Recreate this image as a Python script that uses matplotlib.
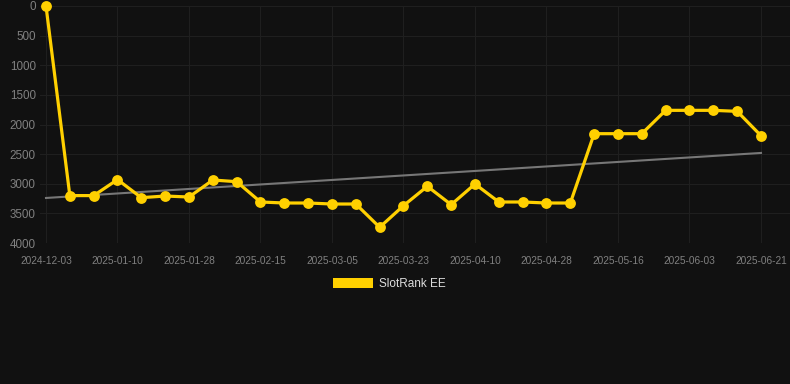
import matplotlib
matplotlib.use("Agg")
import matplotlib.pyplot as plt
from matplotlib.patches import Patch

tick_labels = ["2024-12-03", "2025-01-10", "2025-01-28", "2025-02-15", "2025-03-05",
               "2025-03-23", "2025-04-10", "2025-04-28", "2025-05-16", "2025-06-03",
               "2025-06-21"]
rank_values = [0, 3200, 3200, 2930, 3235, 3207, 3224, 2937, 2965, 3308, 3325,
               3325, 3342, 3342, 3735, 3370, 3043, 3353, 3004, 3308, 3308, 3325,
               3325, 2155, 2155, 2155, 1761, 1761, 1761, 1778, 2189]
trend_values = [3240, 2480]
series_name = "SlotRank EE"

plt.rcParams["font.family"] = ["Liberation Sans", "DejaVu Sans"]

W, H = 790, 384
fig = plt.figure(figsize=(W / 100, H / 100), dpi=100)
bg = "#111111"
fig.patch.set_facecolor(bg)
left, right, top, bottom = 40, 790, 6, 243
ax = fig.add_axes([left / W, 1 - bottom / H, (right - left) / W, (bottom - top) / H])
ax.set_facecolor(bg)

n = len(rank_values)
x = list(range(n))
px_per = (761 - 46) / (n - 1)
ax.set_xlim(-(46 - left) / px_per, (n - 1) + (right - 761) / px_per)
ax.set_ylim(4000, 0)

ax.plot([0, n - 1], trend_values, color="#777777", lw=1.5, zorder=2)
ax.plot(x, rank_values, color="#FFD000", lw=2.3, marker="o", markersize=7.8,
        markeredgewidth=0, zorder=3, clip_on=False)

tick_pos = list(range(0, n, 3))
ax.set_xticks(tick_pos)
ax.set_xticklabels(tick_labels)
ax.set_yticks(range(0, 4001, 500))
ax.set_yticklabels([str(v) for v in range(0, 4001, 500)])
ax.grid(True, color="#1f1f1f", lw=0.8, zorder=0)
ax.tick_params(axis="both", length=0, colors="#808080")
ax.tick_params(axis="x", pad=9, labelsize=7.3)
ax.tick_params(axis="y", pad=3, labelsize=8.4)
for s in ax.spines.values():
    s.set_visible(False)

handle = Patch(facecolor="#FFD000", edgecolor="none")
leg = fig.legend([handle], [series_name], loc="center",
                 bbox_to_anchor=((W / 2 - 6) / W, 1 - 284 / H),
                 frameon=False, handlelength=3.4, handleheight=0.95, handletextpad=0.5,
                 fontsize=8.5, labelcolor="#dddddd")

fig.savefig("out.png", dpi=100, facecolor=bg)
